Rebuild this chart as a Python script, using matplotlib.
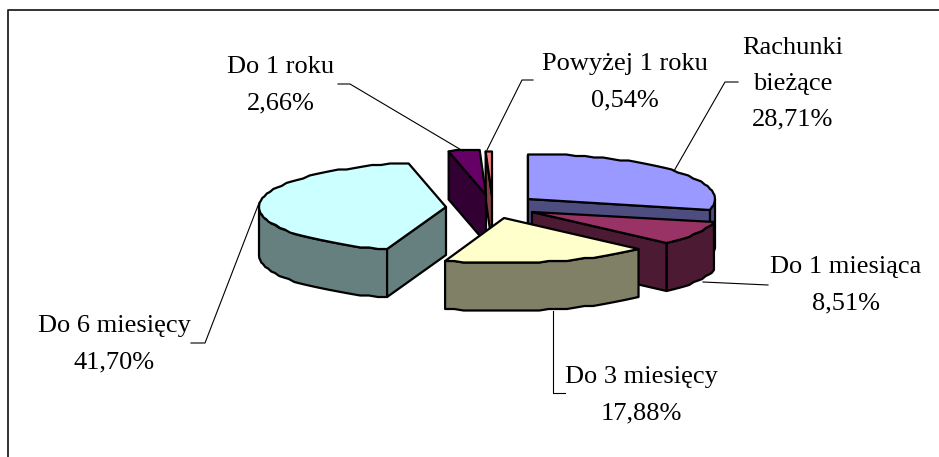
import numpy as np
import matplotlib
matplotlib.use("Agg")
import matplotlib.pyplot as plt
from matplotlib.patches import Polygon

labels = ["Rachunki\nbieżące", "Do 1 miesiąca", "Do 3 miesięcy", "Do 6 miesięcy", "Do 1 roku", "Powyżej 1 roku"]
shares = [28.71, 8.51, 17.88, 41.70, 2.66, 0.54]
top_colors = ["#9999FF", "#993366", "#FFFFCC", "#CCFFFF", "#660066", "#FF8080"]
side_colors = ["#4D4D80", "#4D1A33", "#808066", "#668080", "#330033", "#804040"]

# apex of every exploded slice, in image pixels
apex_x = [528, 532, 504, 446, 486, 492]
apex_y = [199, 212, 218, 207, 195, 196]
draw_order = [0, 5, 4, 1, 3, 2]

label_x = [793, 846, 641, 114, 281, 625]
label_y = [84, 285, 395, 344, 85, 82]
leaders = [
	[(674, 171), (725, 82), (738, 82)],
	[(703, 282), (768, 285)],
	[(553, 311), (553, 393), (565, 393)],
	[(259, 203), (205, 343), (191, 343)],
	[(463, 151), (350, 84), (338, 84)],
	[(487, 150), (522, 80), (533, 80)],
]

RX, RY, DEPTH = 187, 45, 48


def rim(i, a, b):
	"""points on the rim of slice i between clock angles a and b (degrees)"""
	t = np.radians(np.linspace(a, b, max(2, int(abs(b - a) / 3) + 2)))
	x = apex_x[i] + RX * np.sin(t)
	y = apex_y[i] - RY * np.cos(t)
	# the original rim is a rough polyline, keep it a bit stepped
	return np.column_stack([x, np.round(y / 1.5) * 1.5])


def draw_slice(ax, i, start, end):
	center = np.array([apex_x[i], apex_y[i]], dtype=float)
	down = np.array([0, DEPTH])
	style = dict(edgecolor="black", linewidth=1.6, joinstyle="round")

	arc = rim(i, start, end)
	# outer wall, only the part that faces the viewer
	a, b = max(start, 90), min(end, 270)
	if b > a:
		wall = rim(i, a, b)
		ax.add_patch(Polygon(np.vstack([wall, (wall + down)[::-1]]), facecolor=side_colors[i], **style))
	# flat cut walls
	if np.sin(np.radians(start)) <= 1e-9:
		p = arc[0]
		ax.add_patch(Polygon([center, p, p + down, center + down], facecolor=side_colors[i], **style))
	if np.sin(np.radians(end)) > 1e-9:
		p = arc[-1]
		ax.add_patch(Polygon([center, p, p + down, center + down], facecolor=side_colors[i], **style))
	ax.add_patch(Polygon(np.vstack([center, arc]), facecolor=top_colors[i], **style))


fig = plt.figure(figsize=(9.39, 4.57), dpi=100)
ax = fig.add_axes([0, 0, 1, 1])
ax.set_xlim(0, 939)
ax.set_ylim(457, 0)
ax.axis("off")

# only the top and left of the frame are on the page
ax.plot([8, 8, 939], [457, 10, 10], color="#222222", linewidth=1.3)

edges = np.concatenate([[0], np.cumsum(shares)]) / sum(shares) * 360
for i in draw_order:
	draw_slice(ax, i, edges[i], edges[i + 1])

for pts in leaders:
	xs, ys = zip(*pts)
	ax.plot(xs, ys, color="black", linewidth=0.8)

for i, name in enumerate(labels):
	pct = "{:.2f}%".format(shares[i]).replace(".", ",")
	ax.text(label_x[i], label_y[i], name + "\n" + pct, ha="center", va="center", multialignment="center",
		family="Liberation Serif", fontsize=19, linespacing=1.82, color="black")

fig.savefig("out.png", dpi=100)
